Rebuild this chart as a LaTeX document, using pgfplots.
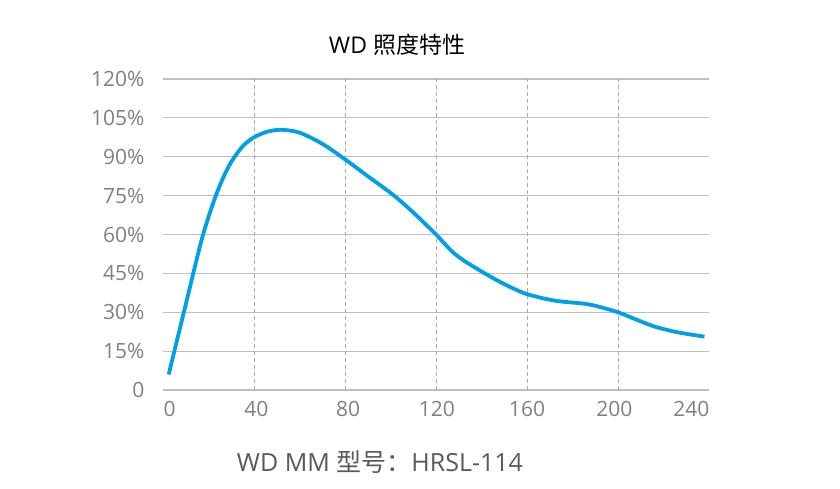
\documentclass[border=0pt]{standalone}
\usepackage{pgfplots}
\pgfplotsset{compat=1.18}
\usepackage{fontspec}
\setmainfont{Open Sans}
\newfontfamily\cjk{Noto Sans CJK SC}
\definecolor{curve}{RGB}{0,160,230}
\definecolor{gridc}{RGB}{191,191,191}
\definecolor{vgrid}{RGB}{170,170,170}
\definecolor{tickc}{RGB}{128,128,128}
\definecolor{labc}{RGB}{89,89,89}
\begin{document}
\begin{tikzpicture}[x=1pt,y=1pt]
\useasboundingbox (0,0) rectangle (840,488);
\begin{axis}[
  at={(163pt,98pt)}, anchor=south west,
  scale only axis, width=546pt, height=311pt,
  xmin=0, xmax=240, ymin=0, ymax=120,
  xtick={2.9,41,81.4,120.4,160,198.4,232.2},
  xticklabels={0,40,80,120,160,200,240},
  ytick={0,15,...,120},
  yticklabels={0,15\%,30\%,45\%,60\%,75\%,90\%,105\%,120\%},
  axis line style={draw=none},
  major tick length=0pt,
  ymajorgrids, grid style={gridc, line width=1.2pt},
  extra x ticks={40,80,...,200},
  extra x tick labels={},
  extra x tick style={grid=major, major grid style={vgrid, line width=1pt, dash pattern=on 4pt off 3pt}},
  tick label style={font=\fontsize{21}{21}\selectfont, text=tickc},
  yticklabel style={xshift=-15pt},
  xticklabel style={yshift=-8pt},
  /pgf/number format/assume math mode=true,
  clip=false,
]
\addplot[curve, line width=3.8pt, smooth, tension=0.5] coordinates {
(2.5,6) (10,33) (17,58) (22,72) (26,81) (30,88) (35,94) (40,97.5) (46,99.7) (52,100.4)
(60,99.3) (70,95) (80,89) (90,82.5) (101,75.4) (110,68.5) (120,60) (127,53.5) (133,49.5)
(144,43.7) (152,40) (160,37) (172,34.5) (186,33.2) (193,31.8) (200,30) (208,27.2)
(216,24.5) (226,22.3) (238,20.6)
};
\end{axis}
\node[font=\fontsize{23}{23}\selectfont, text=black] at (397,443) {WD {\cjk 照度特性}};
\node[font=\fontsize{25}{25}\selectfont, text=labc] at (380,26) {WD MM {\cjk 型号：}HRSL-114};
\end{tikzpicture}
\end{document}
